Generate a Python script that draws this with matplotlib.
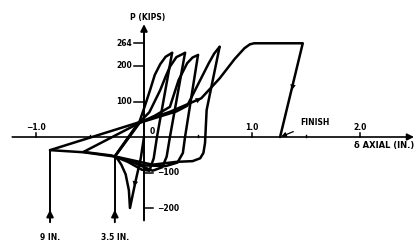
import numpy as np
import matplotlib.pyplot as plt

# axial displacement (in.) / axial load (kips), branch by branch
c0_x = [0.0, -0.03, -0.08, -0.13, -0.14, -0.17, -0.21, -0.24, -0.27]
c0_p = [0, -60, -127, -200, -150, -105, -78, -64, -54]

r1_x = [-0.27, -0.04, 0.0, 0.056, 0.10, 0.15, 0.20, 0.26]
r1_p = [-54, 45, 80, 132, 175, 205, 226, 237]

u1_x = [0.26, 0.12, 0.09, 0.05, -0.02, -0.15, -0.27]
u1_p = [237, 0, -60, -95, -92, -70, -55]

r2_x = [-0.27, -0.04, 0.05, 0.15, 0.20, 0.24, 0.30, 0.38]
r2_p = [-55, 42, 70, 132, 170, 198, 225, 237]

u2_x = [0.38, 0.24, 0.21, 0.17, 0.08, -0.1, -0.3, -0.56]
u2_p = [237, 0, -55, -85, -95, -72, -52, -42]

r3_x = [-0.56, -0.04, 0.10, 0.24, 0.32, 0.40, 0.45, 0.50]
r3_p = [-42, 40, 60, 85, 160, 208, 224, 231]

u3_x = [0.50, 0.38, 0.36, 0.31, 0.20, 0.0, -0.27]
u3_p = [231, 0, -45, -72, -82, -80, -55]

r4_x = [-0.27, -0.04, 0.15, 0.30, 0.40, 0.52, 0.60, 0.65, 0.70]
r4_p = [-55, 40, 58, 72, 88, 160, 208, 235, 254]

u4_x = [0.70, 0.58, 0.565, 0.55, 0.52, 0.45, 0.30, 0.08, -0.25, -0.56, -0.87]
u4_p = [254, 76, -17, -45, -60, -68, -70, -78, -56, -43, -37]

fin_x = [-0.87, -0.04, 0.24, 0.53, 0.70, 0.84, 0.93, 0.98, 1.02, 1.47, 1.26]
fin_p = [-37, 42, 71, 109, 165, 220, 250, 261, 264, 264, 0]

branches = [(c0_x, c0_p), (r1_x, r1_p), (u1_x, u1_p), (r2_x, r2_p), (u2_x, u2_p),
            (r3_x, r3_p), (u3_x, u3_p), (r4_x, r4_p), (u4_x, u4_p), (fin_x, fin_p)]

y_ticks = [264, 200, 100]
y_ticks_neg = [-100, -200]
x_ticks = [-1.0, 1.0, 2.0]
x_minor = [-0.5, 0.5, 1.5]
defl_x = [-0.87, -0.27]
defl_p = [-37, -54]
defl_lbl = ["9 IN.", "3.5 IN."]

fig = plt.figure(figsize=(4.2, 2.43), dpi=100)
ax = fig.add_axes([0, 0, 1, 1])
ax.set_xlim(-144 / 108, 276 / 108)
ax.set_ylim(-106 / 0.355, 137 / 0.355)
ax.axis("off")

fnt = dict(fontweight="bold", family="DejaVu Sans", color="black")
lw = 1.8

for bx, bp in branches:
    ax.plot(bx, bp, color="black", lw=lw, solid_joinstyle="round", solid_capstyle="round")

def arrow_on(x0, y0, x1, y1, ms=10):
    ax.annotate("", xy=(x1, y1), xytext=(x0, y0),
                arrowprops=dict(arrowstyle="-|>", color="black", lw=0, mutation_scale=ms,
                                shrinkA=0, shrinkB=0))

arrow_on(-0.065, -100, -0.09, -140)
arrow_on(0.40, 90, 0.53, 109)
arrow_on(1.40, 180, 1.37, 132)

# axes
ax.annotate("", xy=(2.50, 0), xytext=(-1.22, 0),
            arrowprops=dict(arrowstyle="-|>", color="black", lw=1.2, mutation_scale=10,
                            shrinkA=0, shrinkB=0))
ax.annotate("", xy=(0, 318), xytext=(0, -235),
            arrowprops=dict(arrowstyle="-|>", color="black", lw=1.4, mutation_scale=10,
                            shrinkA=0, shrinkB=0))

for t in y_ticks:
    ax.plot([-0.09, 0], [t, t], color="black", lw=1.1)
    ax.text(-0.11, t, f"{t}", ha="right", va="center", fontsize=5.5, **fnt)
for t in y_ticks_neg:
    ax.plot([0, 0.08], [t, t], color="black", lw=1.1)
    ax.text(0.12, t, f"\u2212{abs(t)}", ha="left", va="center", fontsize=5.5, **fnt)

for t in x_ticks:
    ax.plot([t, t], [0, 12], color="black", lw=1.1)
    lbl = f"{t:.1f}".replace("-", "\u2212")
    ax.text(t, 15, lbl, ha="center", va="bottom", fontsize=5.5, **fnt)
for t in x_minor:
    ax.plot([t, t], [0, 7], color="black", lw=1.0)
ax.text(0.08, 3, "0", ha="center", va="bottom", fontsize=5.5, **fnt)

ax.text(0.03, 338, "P (KIPS)", ha="center", va="center", fontsize=5.5, **fnt)
ax.text(2.50, -25, "\u03b4 AXIAL (IN.)", ha="right", va="center", fontsize=6, **fnt)

ax.annotate("FINISH", xy=(1.27, 1), xytext=(1.58, 40), ha="center", va="center",
            fontsize=5.5, **fnt,
            arrowprops=dict(arrowstyle="-|>", color="black", lw=0.9, mutation_scale=7,
                            shrinkA=3, shrinkB=0))

for dx, dp, lbl in zip(defl_x, defl_p, defl_lbl):
    ax.annotate("", xy=(dx, -205), xytext=(dx, -240),
                arrowprops=dict(arrowstyle="-|>", color="black", lw=1.4, mutation_scale=10,
                                shrinkA=0, shrinkB=0))
    ax.plot([dx, dx], [dp, -215], color="black", lw=1.4)
    ax.text(dx, -283, lbl, ha="center", va="center", fontsize=5.5, **fnt)

fig.savefig("out.png", dpi=100)
